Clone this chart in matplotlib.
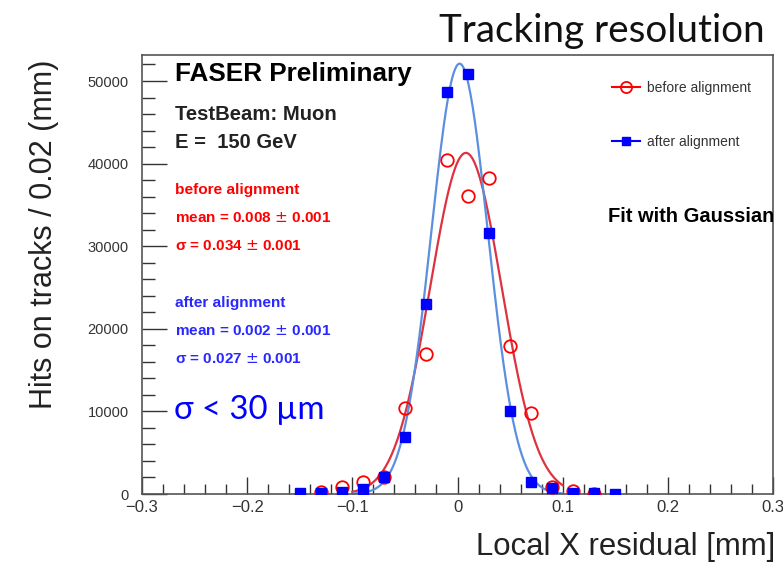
import numpy as np
import matplotlib
matplotlib.use('Agg')
import matplotlib.pyplot as plt
from matplotlib.lines import Line2D
from matplotlib.ticker import MultipleLocator

# bin centres (bin width 0.02 mm)
x_after = [-0.15, -0.13, -0.11, -0.09, -0.07, -0.05, -0.03, -0.01,
           0.01, 0.03, 0.05, 0.07, 0.09, 0.11, 0.13, 0.15]
y_after = [100, 100, 200, 600, 2000, 6900, 23000, 48700,
           50800, 31600, 10000, 1400, 700, 100, 80, 50]

x_before = [-0.13, -0.11, -0.09, -0.07, -0.05, -0.03, -0.01,
            0.01, 0.03, 0.05, 0.07, 0.09, 0.11, 0.13]
y_before = [200, 800, 1500, 2100, 10400, 17000, 40400,
            36100, 38300, 17900, 9800, 800, 400, 0]

# gaussian fit results (amplitude, mean, sigma)
fit_before = (41300, 0.008, 0.034)
fit_after = (52100, 0.002, 0.027)
fit_range = (-0.1, 0.1)

W, H = 783, 562
fig = plt.figure(figsize=(W / 100, H / 100), dpi=100)
ax = fig.add_axes([142 / W, 1 - 494 / H, (773 - 142) / W, (494 - 55) / H])

def px(x, y):
    return x / W, 1 - y / H

xf = np.linspace(fit_range[0], fit_range[1], 300)
def gaus(p):
    a, m, s = p
    return a * np.exp(-0.5 * ((xf - m) / s) ** 2)

red, blue = '#ff0000', '#0000ff'
ax.plot(xf, gaus(fit_before), color='#dd3340', lw=1.6, zorder=2)
ax.plot(xf, gaus(fit_after), color='#5b8fe0', lw=1.6, zorder=2)
ax.plot(x_before, y_before, 'o', mfc='none', mec=red, mew=1.3, ms=9, zorder=3)
ax.plot(x_after, y_after, 's', color=blue, ms=6.5, zorder=3)

ax.set_xlim(-0.3, 0.3)
ax.set_ylim(0, 53150)
ax.xaxis.set_major_locator(MultipleLocator(0.1))
ax.xaxis.set_minor_locator(MultipleLocator(0.02))
ax.yaxis.set_major_locator(MultipleLocator(10000))
ax.yaxis.set_minor_locator(MultipleLocator(2000))
ax.tick_params(which='both', direction='in', top=False, right=False,
               color='#333333', width=1)
ax.tick_params(axis='x', which='major', length=12)
ax.tick_params(axis='x', which='minor', length=7)
ax.tick_params(axis='y', which='major', length=18)
ax.tick_params(axis='y', which='minor', length=9)
ax.tick_params(axis='x', labelsize=12, pad=4)
ax.tick_params(axis='y', labelsize=10.5, pad=9.5)
ax.set_xticks([-0.3, -0.2, -0.1, 0, 0.1, 0.2, 0.3])
ax.set_xticklabels(['\u22120.3', '\u22120.2', '\u22120.1', '0', '0.1', '0.2', '0.3'],
                   family='Liberation Sans', color='#333333')
ax.set_yticks([0, 10000, 20000, 30000, 40000, 50000])
ax.set_yticklabels(['0', '10000', '20000', '30000', '40000', '50000'],
                   family='Liberation Sans', color='#333333')
for s in ax.spines.values():
    s.set_color('#555555')
    s.set_linewidth(1.2)

# text block (ROOT style)
hv = 'Liberation Sans'
fig.text(*px(175, 74), 'FASER Preliminary', fontsize=18.8, weight='bold', family=hv, va='center')
fig.text(*px(175, 115), 'TestBeam: Muon', fontsize=14.6, weight='bold', family=hv, va='center', color='#222222')
fig.text(*px(175, 143), 'E =  150 GeV', fontsize=14.5, weight='bold', family=hv, va='center', color='#222222')
fig.text(*px(175, 190), 'before alignment', fontsize=11.1, weight='bold', family=hv, va='center', color=red)
fig.text(*px(175, 218), 'mean = 0.008 $\\pm$ 0.001', fontsize=11, weight='bold', family=hv, va='center', color=red)
fig.text(*px(175, 246), '\u03c3 = 0.034 $\\pm$ 0.001', fontsize=11, weight='bold', family=hv, va='center', color=red)
fig.text(*px(175, 303), 'after alignment', fontsize=11.1, weight='bold', family=hv, va='center', color='#2828ff')
fig.text(*px(175, 331), 'mean = 0.002 $\\pm$ 0.001', fontsize=11, weight='bold', family=hv, va='center', color='#2828ff')
fig.text(*px(175, 359), '\u03c3 = 0.027 $\\pm$ 0.001', fontsize=11, weight='bold', family=hv, va='center', color='#2828ff')
fig.text(*px(174, 410), '\u03c3 < 30 \u00b5m', fontsize=23.7, family='Lato', va='center', color='#0000ff')

t = fig.text(*px(608, 216), 'Fit with Gaussian', fontsize=14.5, weight='bold', family=hv, va='center')
t.set_clip_on(True)
t.set_clip_box(ax.bbox)

handles = [Line2D([], [], color=red, marker='o', mfc='none', mec=red, mew=1.3, ms=8, lw=1.5),
           Line2D([], [], color=blue, marker='s', ms=6, lw=1.5)]
ax.legend(handles, ['before alignment', 'after alignment'], loc='upper left',
          bbox_to_anchor=((612 - 142) / (773 - 142), 1 - (81 - 55) / (494 - 55)),
          frameon=False, prop={'family': hv, 'size': 10}, handlelength=2.0,
          handletextpad=0.55, labelspacing=2.85, borderpad=0, borderaxespad=0,
          labelcolor='#333333')

fig.text(*px(765, 31), 'Tracking resolution', fontsize=27.8, family='Lato', ha='right', va='center', color='#111111')
fig.text(*px(775, 547), 'Local X residual [mm]', fontsize=22.4, family=hv, ha='right', va='center', color='#222222')
fig.text(*px(44, 234), 'Hits on tracks / 0.02 (mm)', fontsize=22, family=hv, rotation=90,
         ha='center', va='center', color='#222222')

fig.savefig('out.png', dpi=100)
